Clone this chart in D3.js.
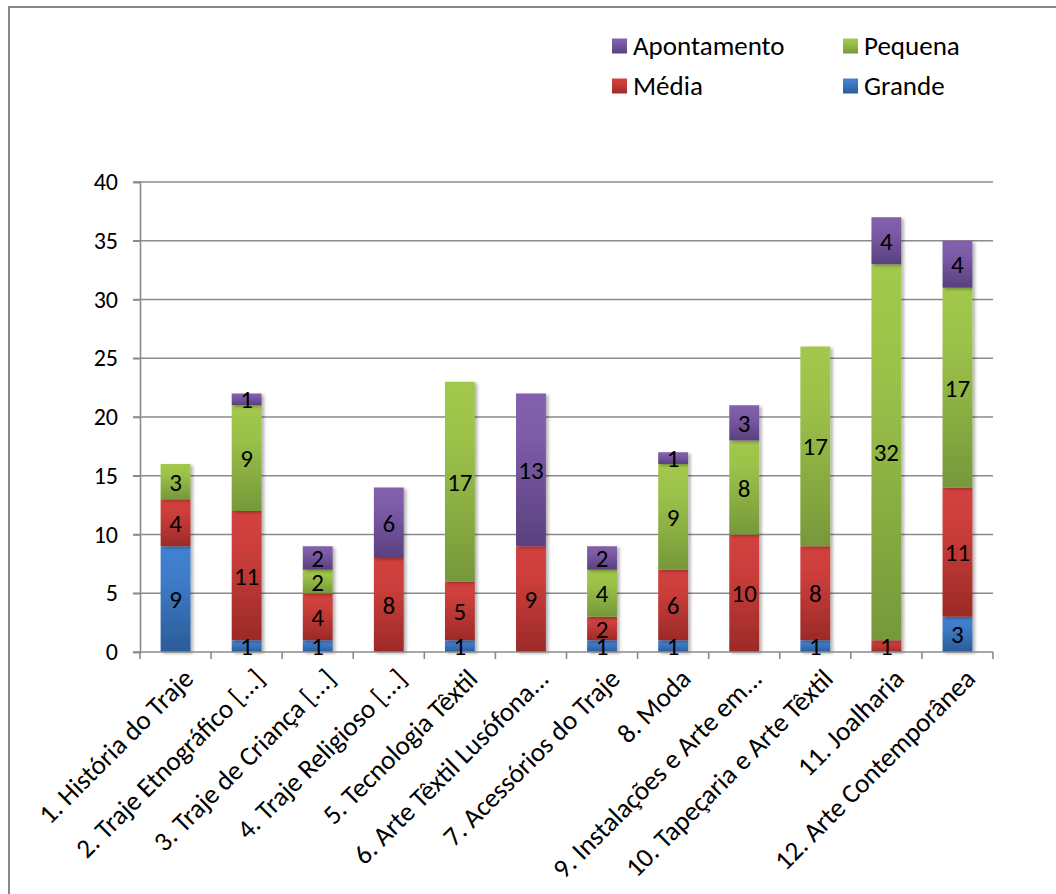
<!DOCTYPE html>
<html>
<head>
<meta charset="utf-8">
<script src="https://cdn.jsdelivr.net/npm/d3@7"></script>
<style>
  html, body { margin: 0; padding: 0; background: #fff; }
  svg { display: block; }
  text { font-family: Carlito, Calibri, Lato, "Open Sans", sans-serif; fill: #000; }
</style>
</head>
<body>
<svg id="chart" width="1056" height="894"></svg>
<script>
const categories = [
  "1. História do Traje",
  "2. Traje Etnográfico [...]",
  "3. Traje de Criança [...]",
  "4. Traje Religioso [...]",
  "5. Tecnologia Têxtil",
  "6. Arte Têxtil Lusófona...",
  "7. Acessórios do Traje",
  "8. Moda",
  "9. Instalações e Arte em...",
  "10. Tapeçaria e Arte Têxtil",
  "11. Joalharia",
  "12. Arte Contemporânea"
];
const seriesNames = ["Grande", "Média", "Pequena", "Apontamento"];
const grande      = [9, 1, 1, 0, 1, 0, 1, 1, 0, 1, 0, 3];
const media       = [4, 11, 4, 8, 5, 9, 2, 6, 10, 8, 1, 11];
const pequena     = [3, 9, 2, 0, 17, 0, 4, 9, 8, 17, 32, 17];
const apontamento = [0, 1, 2, 6, 0, 13, 2, 1, 3, 0, 4, 4];
const yTicks = [0, 5, 10, 15, 20, 25, 30, 35, 40];
const legendOrder = ["Apontamento", "Pequena", "Média", "Grande"];

const seriesValues = { "Grande": grande, "Média": media, "Pequena": pequena, "Apontamento": apontamento };
const colors = {
  "Grande":      ["#4182d2", "#2b5c98"],
  "Média":       ["#d3413e", "#9c2a27"],
  "Pequena":     ["#a2c84c", "#76983a"],
  "Apontamento": ["#8260ae", "#5a407e"]
};
const gradId = { "Grande": "gG", "Média": "gM", "Pequena": "gP", "Apontamento": "gA" };

const svg = d3.select("#chart");
const defs = svg.append("defs");
seriesNames.forEach(s => {
  const g = defs.append("linearGradient").attr("id", gradId[s])
    .attr("x1", 0).attr("y1", 0).attr("x2", 0).attr("y2", 1);
  g.append("stop").attr("offset", "0%").attr("stop-color", colors[s][0]);
  g.append("stop").attr("offset", "30%").attr("stop-color", d3.interpolateRgb(colors[s][0], colors[s][1])(0.15));
  g.append("stop").attr("offset", "100%").attr("stop-color", colors[s][1]);
});
const f = defs.append("filter").attr("id", "shadow").attr("x", "-20%").attr("y", "-5%").attr("width", "150%").attr("height", "115%");
f.append("feDropShadow").attr("dx", 2.5).attr("dy", 1.5).attr("stdDeviation", 1.5)
  .attr("flood-color", "#000").attr("flood-opacity", 0.3);

// chart border
svg.append("rect").attr("x", 9).attr("y", 7).attr("width", 1100).attr("height", 1000)
  .attr("fill", "none").attr("stroke", "#878787").attr("stroke-width", 2);

const pLeft = 140, pRight = 993, pTop = 182, pBottom = 652;
const x = d3.scaleBand().domain(categories).range([pLeft, pRight]).paddingInner(0.58).paddingOuter(0.29);
const y = d3.scaleLinear().domain([0, 40]).range([pBottom, pTop]);
const gridColor = "#8a8a8a";

// gridlines
svg.append("g").selectAll("line").data(yTicks.filter(t => t > 0)).join("line")
  .attr("x1", pLeft - 7).attr("x2", pRight)
  .attr("y1", d => y(d)).attr("y2", d => y(d))
  .attr("stroke", gridColor).attr("stroke-width", 1.6);

// y axis
const yAxis = svg.append("g").attr("transform", `translate(${pLeft},0)`)
  .call(d3.axisLeft(y).tickValues(yTicks).tickSize(7).tickPadding(15).tickFormat(d3.format("d")));
yAxis.select(".domain").attr("stroke", gridColor).attr("stroke-width", 1.6);
yAxis.selectAll(".tick line").attr("stroke", gridColor).attr("stroke-width", 1.6);
yAxis.selectAll(".tick text").attr("font-size", 24).style("font-family", "Carlito, Calibri, Lato, sans-serif").attr("fill", "#000");

// stacked data
const rows = categories.map((c, i) => {
  const r = { cat: c };
  seriesNames.forEach(s => r[s] = seriesValues[s][i]);
  return r;
});
const stack = d3.stack().keys(seriesNames)(rows);

const barsG = svg.append("g");
stack.forEach(layer => {
  const s = layer.key;
  barsG.append("g").attr("filter", "url(#shadow)").selectAll("rect")
    .data(layer.filter(d => d[1] - d[0] > 0)).join("rect")
    .attr("x", d => x(d.data.cat))
    .attr("width", x.bandwidth())
    .attr("y", d => y(d[1]))
    .attr("height", d => y(d[0]) - y(d[1]))
    .attr("fill", `url(#${gradId[s]})`);
});

// x axis
const xAxisG = svg.append("g");
xAxisG.append("line").attr("x1", pLeft - 7).attr("x2", pRight).attr("y1", pBottom).attr("y2", pBottom)
  .attr("stroke", gridColor).attr("stroke-width", 1.6);
const bounds = d3.range(categories.length + 1).map(i => pLeft + i * x.step());
xAxisG.selectAll(".xt").data(bounds).join("line").attr("class", "xt")
  .attr("x1", d => d).attr("x2", d => d).attr("y1", pBottom).attr("y2", pBottom + 7)
  .attr("stroke", gridColor).attr("stroke-width", 1.6);

// data labels
const labelsG = svg.append("g");
stack.forEach(layer => {
  labelsG.append("g").selectAll("text")
    .data(layer.filter(d => d[1] - d[0] > 0)).join("text")
    .attr("x", d => x(d.data.cat) + x.bandwidth() / 2)
    .attr("y", d => (y(d[0]) + y(d[1])) / 2)
    .attr("dy", "0.36em")
    .attr("text-anchor", "middle")
    .attr("font-size", 25)
    .text(d => d[1] - d[0]);
});

// x labels
svg.append("g").selectAll("text").data(categories).join("text")
  .attr("transform", d => `translate(${x(d) + x.bandwidth() / 2 + 6},${pBottom + 15}) rotate(-45)`)
  .attr("text-anchor", "end")
  .attr("dy", "0.7em")
  .attr("font-size", 27)
  .text(d => d);

// legend
const legendPos = {
  "Apontamento": [612, 46], "Pequena": [843, 46],
  "Média": [612, 86], "Grande": [843, 86]
};
const lg = svg.append("g");
legendOrder.forEach(s => {
  const [lx, ly] = legendPos[s];
  lg.append("rect").attr("x", lx).attr("y", ly - 7.5).attr("width", 15).attr("height", 15)
    .attr("fill", `url(#${gradId[s]})`);
  lg.append("text").attr("x", lx + 21).attr("y", ly).attr("dy", "0.35em")
    .attr("font-size", 27).text(s);
});
</script>
</body>
</html>
